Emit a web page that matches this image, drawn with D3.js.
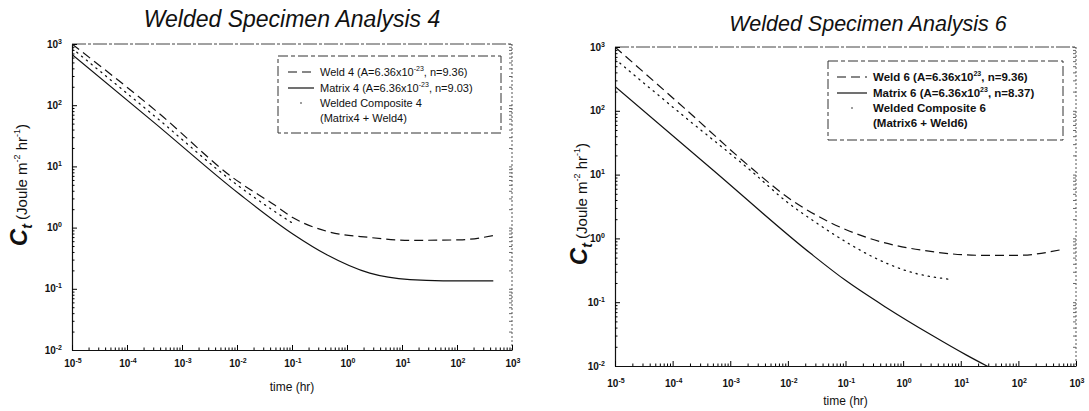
<!DOCTYPE html>
<html>
<head>
<meta charset="utf-8">
<script src="https://cdn.jsdelivr.net/npm/d3@7"></script>
<style>
  body { margin: 0; background: #fff; }
  text { font-family: "Liberation Sans", Arial, sans-serif; fill: #111; }
</style>
</head>
<body>
<svg width="1089" height="411"></svg>
<script>
// tick decades
const xDecades = [1e-5, 1e-4, 1e-3, 1e-2, 1e-1, 1e0, 1e1, 1e2, 1e3];
const xExponents = ["-5", "-4", "-3", "-2", "-1", "0", "1", "2", "3"];
const yDecades = [1e-2, 1e-1, 1e0, 1e1, 1e2, 1e3];
const yExponents = ["-2", "-1", "0", "1", "2", "3"];

// Analysis 4
const weld4T = [1e-5, 4.0e-4, 8.5e-3, 0.046, 0.105, 0.43, 2.6, 14, 112, 457];
const weld4C = [1000, 71, 6.5, 2.4, 1.45, 0.87, 0.69, 0.62, 0.63, 0.74];
const matrix4T = [1e-5, 3.2e-4, 0.0112, 0.105, 0.43, 2.6, 14, 56, 457];
const matrix4C = [676, 51, 3.5, 0.78, 0.36, 0.18, 0.141, 0.135, 0.135];
const comp4T = [1e-5, 3.2e-4, 0.01, 0.042, 0.112];
const comp4C = [850, 66, 5.0, 2.0, 1.12];

// Analysis 6
const weld6T = [1e-5, 1.6e-4, 2.5e-3, 0.01, 0.0316, 0.1, 0.4, 2.8, 22.4, 100, 525];
const weld6C = [1000, 110, 12.0, 4.37, 2.29, 1.38, 0.89, 0.63, 0.543, 0.543, 0.66];
const matrix6T = [1e-5, 5e-4, 0.025, 0.1, 0.5, 3.16, 12.6, 40];
const matrix6C = [240, 11.8, 0.578, 0.22, 0.0836, 0.0303, 0.0148, 0.0085];
const comp6T = [1e-5, 1.6e-4, 2.5e-3, 0.01, 0.0316, 0.1, 0.316, 1.15, 6.0];
const comp6C = [646, 81, 10.7, 3.63, 1.74, 0.89, 0.50, 0.31, 0.23];

const titles = ["Welded Specimen Analysis 4", "Welded Specimen Analysis 6"];
const legend4 = [
  ["Weld 4 (A=6.36x10", "-23", ", n=9.36)"],
  ["Matrix 4 (A=6.36x10", "-23", ", n=9.03)"],
  ["Welded Composite 4"],
  ["(Matrix4 + Weld4)"]
];
const legend6 = [
  ["Weld 6 (A=6.36x10", "23", ", n=9.36)"],
  ["Matrix 6 (A=6.36x10", "23", ", n=8.37)"],
  ["Welded Composite 6"],
  ["(Matrix6 + Weld6)"]
];

const svg = d3.select("svg");

const panels = [
  {
    title: titles[0], titleX: 292, titleY: 27, titleSize: 23,
    x0: 72, x1: 512, y0: 44, y1: 350,
    xLabY: 367, timeY: 391, yLabX: 27, yLabY: 185,
    legend: legend4, box: {x: 278, y: 56, w: 223, h: 77}, rowY: [76, 92, 107, 122],
    sampleX: [288, 314], textX: 320, legSize: 11, legWeight: "normal",
    series: [
      {t: weld4T, c: weld4C, dash: "9,5", w: 1.2},
      {t: matrix4T, c: matrix4C, dash: null, w: 1.2},
      {t: comp4T, c: comp4C, dash: "1.2,5", w: 1.3}
    ]
  },
  {
    title: titles[1], titleX: 868, titleY: 31, titleSize: 21.5,
    x0: 615, x1: 1076, y0: 47, y1: 366,
    xLabY: 387, timeY: 405, yLabX: 587, yLabY: 204,
    legend: legend6, box: {x: 828, y: 61, w: 235, h: 79}, rowY: [81, 97, 112, 127],
    sampleX: [837, 867], textX: 873, legSize: 11.5, legWeight: "bold",
    series: [
      {t: weld6T, c: weld6C, dash: "9,5", w: 1.2},
      {t: matrix6T, c: matrix6C, dash: null, w: 1.2},
      {t: comp6T, c: comp6C, dash: "1.2,5", w: 1.3}
    ]
  }
];

panels.forEach((p, pi) => {
  const g = svg.append("g");

  const x = d3.scaleLog().domain([1e-5, 1e3]).range([p.x0, p.x1]);
  const y = d3.scaleLog().domain([1e-2, 1e3]).range([p.y1, p.y0]);

  // title
  g.append("text")
    .attr("x", p.titleX).attr("y", p.titleY)
    .attr("text-anchor", "middle")
    .attr("font-size", p.titleSize + "px")
    .attr("font-style", "italic")
    .text(p.title);

  // frame (top / right look faint and dotted in the scan)
  g.append("line").attr("x1", p.x0).attr("x2", p.x1).attr("y1", p.y0).attr("y2", p.y0)
    .attr("stroke", "#444").attr("stroke-width", 1).attr("stroke-dasharray", "14,2,3,2");
  g.append("line").attr("x1", p.x1).attr("x2", p.x1).attr("y1", p.y0).attr("y2", p.y1)
    .attr("stroke", "#555").attr("stroke-width", 1).attr("stroke-dasharray", "2,2");

  // minor tick values
  const xMinor = [], yMinor = [];
  xDecades.slice(0, -1).forEach(d => { for (let k = 2; k < 10; k++) xMinor.push(d * k); });
  yDecades.slice(0, -1).forEach(d => { for (let k = 2; k < 10; k++) yMinor.push(d * k); });

  // y axis
  g.append("g").attr("transform", `translate(${p.x0},0)`)
    .call(d3.axisLeft(y).tickValues(yDecades).tickFormat("").tickSizeInner(-5).tickSizeOuter(0));
  g.append("g").attr("transform", `translate(${p.x0},0)`)
    .call(d3.axisLeft(y).tickValues(yMinor).tickFormat("").tickSizeInner(-2.5).tickSizeOuter(0))
    .select(".domain").remove();
  // right side ticks
  g.append("g").attr("transform", `translate(${p.x1},0)`)
    .call(d3.axisRight(y).tickValues(yMinor.concat(yDecades)).tickFormat("").tickSizeInner(-3).tickSizeOuter(0))
    .call(a => a.select(".domain").remove())
    .selectAll("line").attr("stroke", "#666");

  // x axis
  g.append("g").attr("transform", `translate(0,${p.y1})`)
    .call(d3.axisBottom(x).tickValues(xDecades).tickFormat("").tickSizeInner(-5).tickSizeOuter(0));
  g.append("g").attr("transform", `translate(0,${p.y1})`)
    .call(d3.axisBottom(x).tickValues(xMinor).tickFormat("").tickSizeInner(-2.5).tickSizeOuter(0))
    .select(".domain").remove();

  g.selectAll(".domain").attr("stroke", "#111").attr("stroke-width", 1.2);

  // y tick labels 10^n
  yDecades.forEach((d, i) => {
    const t = g.append("text")
      .attr("x", p.x0 - 10).attr("y", y(d) + 3.5)
      .attr("text-anchor", "end")
      .attr("font-size", "10px").attr("font-weight", "bold");
    t.append("tspan").text("10");
    t.append("tspan").attr("font-size", "7px").attr("dy", -4).text(yExponents[i]);
  });

  // x tick labels 10^n
  xDecades.forEach((d, i) => {
    const t = g.append("text")
      .attr("x", x(d) + 1).attr("y", p.xLabY)
      .attr("text-anchor", "middle")
      .attr("font-size", "10px").attr("font-weight", "bold");
    t.append("tspan").text("10");
    t.append("tspan").attr("font-size", "7px").attr("dy", -4).text(xExponents[i]);
  });

  // axis titles
  g.append("text")
    .attr("x", (p.x0 + p.x1) / 2).attr("y", p.timeY)
    .attr("text-anchor", "middle").attr("font-size", "12px")
    .text("time (hr)");

  const yl = g.append("text")
    .attr("transform", `translate(${p.yLabX},${p.yLabY}) rotate(-90)`)
    .attr("text-anchor", "middle").attr("font-size", "15px");
  yl.append("tspan").attr("font-size", "24px").attr("font-weight", "bold").attr("font-style", "italic").text("C");
  yl.append("tspan").attr("font-size", "14px").attr("font-style", "italic").attr("font-weight", "bold").attr("dy", 5).text("t");
  yl.append("tspan").attr("dy", -5).text(" (Joule m");
  yl.append("tspan").attr("font-size", "9px").attr("dy", -7).text("-2");
  yl.append("tspan").attr("dy", 7).text(" hr");
  yl.append("tspan").attr("font-size", "9px").attr("dy", -7).text("-1");
  yl.append("tspan").attr("dy", 7).text(")");

  // curves
  const clipId = "clip" + pi;
  svg.append("clipPath").attr("id", clipId).append("rect")
    .attr("x", p.x0).attr("y", p.y0).attr("width", p.x1 - p.x0).attr("height", p.y1 - p.y0);

  const line = d3.line()
    .x(d => x(d[0])).y(d => y(d[1]))
    .curve(d3.curveMonotoneX);

  p.series.forEach(s => {
    const pts = s.t.map((t, i) => [t, s.c[i]]);
    g.append("path")
      .attr("clip-path", `url(#${clipId})`)
      .attr("d", line(pts))
      .attr("fill", "none")
      .attr("stroke", "#111")
      .attr("stroke-width", s.w)
      .attr("stroke-dasharray", s.dash)
      .attr("stroke-linecap", s.dash === "1.2,5" ? "round" : "butt");
  });

  // legend
  const b = p.box;
  g.append("rect")
    .attr("x", b.x).attr("y", b.y).attr("width", b.w).attr("height", b.h)
    .attr("fill", "#fff").attr("stroke", "#333").attr("stroke-width", 1)
    .attr("stroke-dasharray", "10,3,4,3");

  p.series.slice(0, 2).forEach((s, i) => {
    g.append("line")
      .attr("x1", p.sampleX[0]).attr("x2", p.sampleX[1])
      .attr("y1", p.rowY[i] - 4).attr("y2", p.rowY[i] - 4)
      .attr("stroke", "#111").attr("stroke-width", 1.2)
      .attr("stroke-dasharray", s.dash);
  });
  g.append("circle")
    .attr("cx", (p.sampleX[0] + p.sampleX[1]) / 2).attr("cy", p.rowY[2] - 4)
    .attr("r", 0.8).attr("fill", "#222");

  p.legend.forEach((parts, i) => {
    const t = g.append("text")
      .attr("x", p.textX).attr("y", p.rowY[i])
      .attr("font-size", p.legSize + "px").attr("font-weight", p.legWeight);
    t.append("tspan").text(parts[0]);
    if (parts.length > 1) {
      t.append("tspan").attr("font-size", "7px").attr("dy", -5).text(parts[1]);
      t.append("tspan").attr("dy", 5).text(parts[2]);
    }
  });
});
</script>
</body>
</html>
